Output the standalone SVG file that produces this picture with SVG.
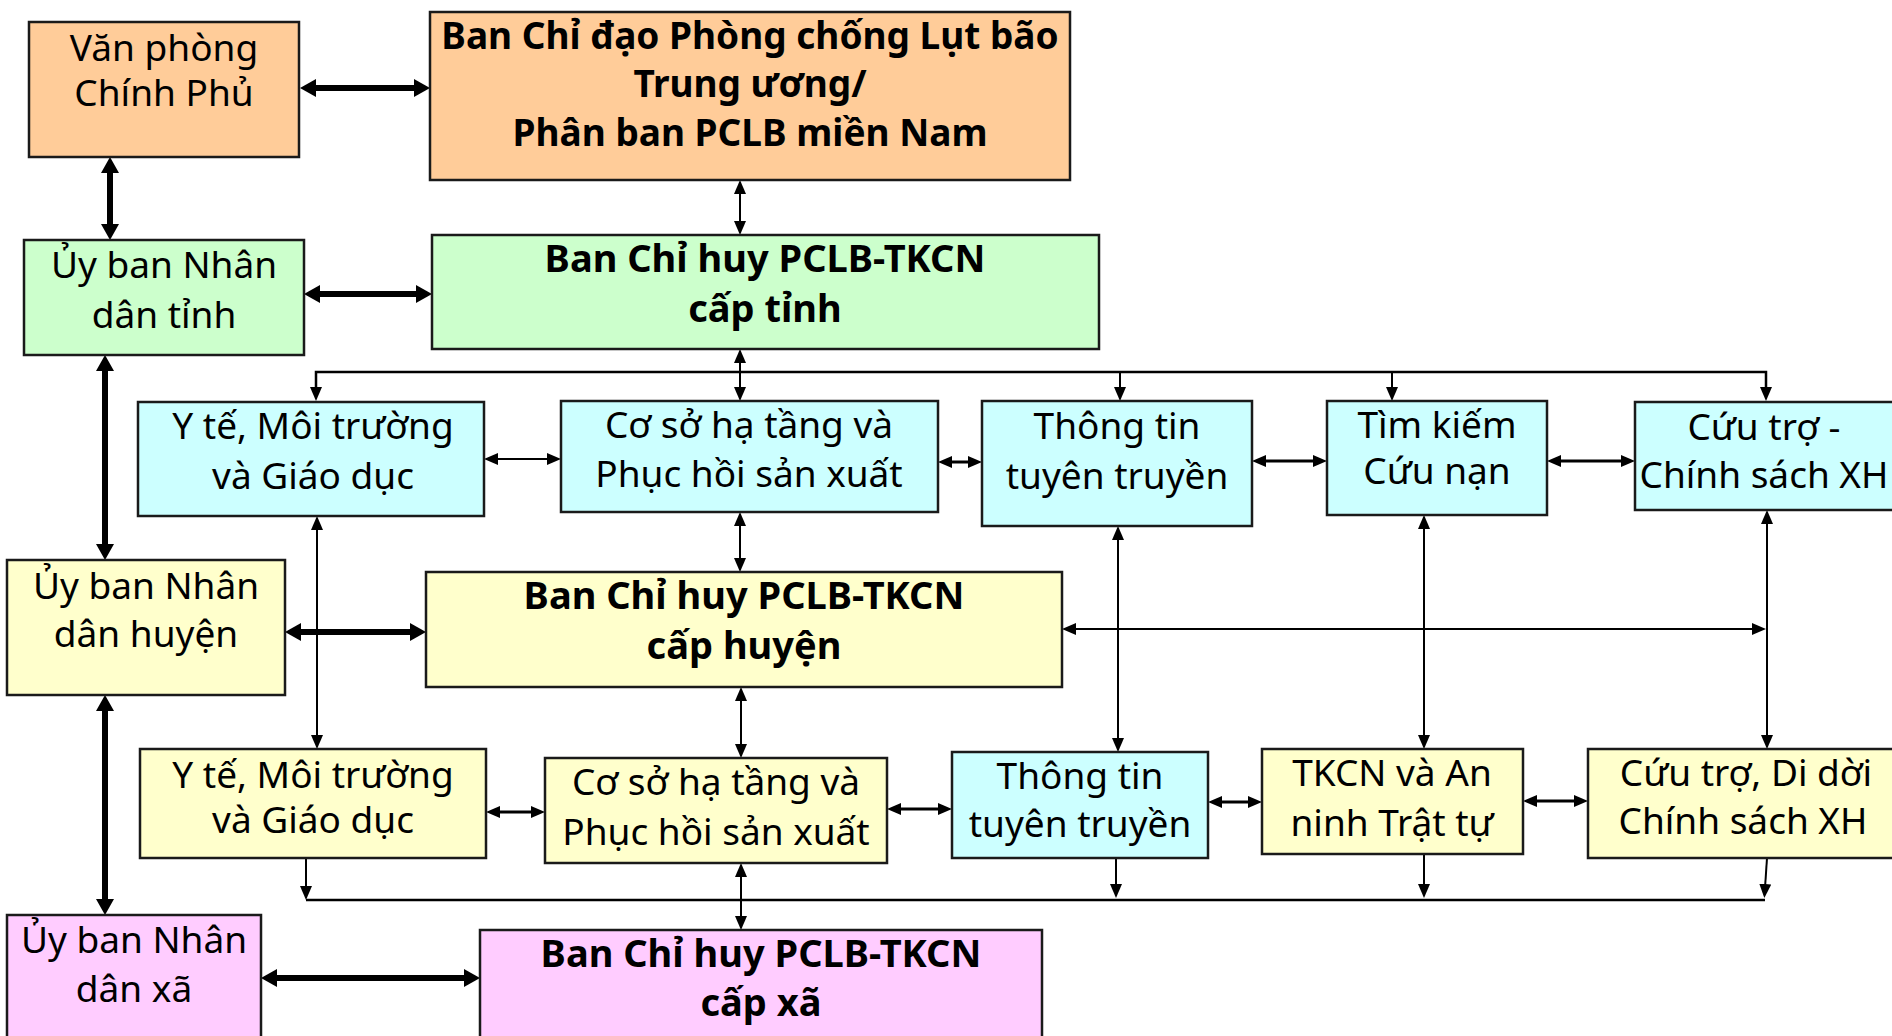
<svg xmlns="http://www.w3.org/2000/svg" width="1892" height="1036" viewBox="0 0 1892 1036">
<style>
  .box { stroke: #1a1a1a; stroke-width: 2.5; }
  .or { fill: #FFCC99; }
  .gr { fill: #CCFFCC; }
  .cy { fill: #CCFFFF; }
  .ye { fill: #FFFFCC; }
  .pk { fill: #FFCCFF; }
  text { font-family: "Noto Sans", "DejaVu Sans", sans-serif; fill: #000; text-anchor: middle; }
  .r { font-size: 37px; }
  .b { font-size: 38px; font-weight: bold; }
  .bt { font-size: 37px; font-weight: bold; }
  .thick { stroke: #000; stroke-width: 6; fill: none; marker-start: url(#A); marker-end: url(#A); }
  .thin { stroke: #000; stroke-width: 2; fill: none; marker-start: url(#a); marker-end: url(#a); }
  .med { stroke: #000; stroke-width: 3; fill: none; marker-start: url(#a); marker-end: url(#a); }
  .one { stroke: #000; stroke-width: 2; fill: none; marker-end: url(#a); }
  .bus { stroke: #000; stroke-width: 2.5; fill: none; }
</style>
<defs>
  <marker id="a" markerUnits="userSpaceOnUse" viewBox="0 0 14 12" markerWidth="14" markerHeight="12" refX="4" refY="6" orient="auto-start-reverse">
    <path d="M0,0 L14,6 L0,12 z" fill="#000"/>
  </marker>
  <marker id="A" markerUnits="userSpaceOnUse" viewBox="0 0 16 18" markerWidth="16" markerHeight="18" refX="4" refY="9" orient="auto-start-reverse">
    <path d="M0,0 L16,9 L0,18 z" fill="#000"/>
  </marker>
</defs>

<g id="connectors">
  <line class="thick" x1="312" y1="88" x2="418" y2="88"/>
  <line class="thick" x1="110" y1="169" x2="110" y2="228"/>
  <line class="thick" x1="316" y1="294" x2="420" y2="294"/>
  <line class="thick" x1="105" y1="367" x2="105" y2="548"/>
  <line class="thick" x1="297" y1="632" x2="414" y2="632"/>
  <line class="thick" x1="105" y1="707" x2="105" y2="903"/>
  <line class="thick" x1="273" y1="978" x2="468" y2="978"/>

  <line class="thin" x1="740" y1="190" x2="740" y2="225"/>
  <line class="thin" x1="740" y1="359" x2="740" y2="391"/>
  <line class="thin" x1="494" y1="459" x2="551" y2="459"/>
  <line class="med" x1="948" y1="462" x2="972" y2="462"/>
  <line class="med" x1="1262" y1="461" x2="1317" y2="461"/>
  <line class="med" x1="1557" y1="461" x2="1625" y2="461"/>
  <path class="bus" d="M316,391 V372 H1766 V391" marker-start="url(#a)" marker-end="url(#a)"/>
  <line class="one" x1="1120" y1="372" x2="1120" y2="391"/>
  <line class="one" x1="1392" y1="372" x2="1392" y2="391"/>

  <line class="thin" x1="317" y1="526" x2="317" y2="739"/>
  <line class="thin" x1="740" y1="522" x2="740" y2="562"/>
  <line class="thin" x1="1118" y1="536" x2="1118" y2="742"/>
  <line class="thin" x1="1424" y1="525" x2="1424" y2="739"/>
  <line class="thin" x1="1767" y1="520" x2="1767" y2="739"/>
  <line class="thin" x1="1072" y1="629" x2="1756" y2="629"/>
  <line class="thin" x1="741" y1="697" x2="741" y2="748"/>

  <line class="med" x1="496" y1="812" x2="535" y2="812"/>
  <line class="med" x1="897" y1="809" x2="942" y2="809"/>
  <line class="med" x1="1218" y1="802" x2="1252" y2="802"/>
  <line class="med" x1="1533" y1="801" x2="1578" y2="801"/>

  <line class="one" x1="306" y1="858" x2="306" y2="890"/>
  <line class="bus" x1="306" y1="900" x2="1765" y2="900"/>
  <line class="one" x1="1116" y1="858" x2="1116" y2="888"/>
  <line class="one" x1="1424" y1="854" x2="1424" y2="888"/>
  <line class="one" x1="1767" y1="858" x2="1765" y2="888"/>
  <line class="thin" x1="741" y1="873" x2="741" y2="920"/>
</g>

<g id="vanphong">
  <rect class="box or" x="29" y="22" width="270" height="135"/>
  <text class="r" x="164" y="61">Văn phòng</text>
  <text class="r" x="164" y="106">Chính Phủ</text>
</g>
<g id="bcd-tw">
  <rect class="box or" x="430" y="12" width="640" height="168"/>
  <text class="bt" x="750" y="49">Ban Chỉ đạo Phòng chống Lụt bão</text>
  <text class="bt" x="750" y="97">Trung ương/</text>
  <text class="bt" x="750" y="146">Phân ban PCLB miền Nam</text>
</g>
<g id="ubnd-tinh">
  <rect class="box gr" x="24" y="240" width="280" height="115"/>
  <text class="r" x="164" y="278">Ủy ban Nhân</text>
  <text class="r" x="164" y="328">dân tỉnh</text>
</g>
<g id="bch-tinh">
  <rect class="box gr" x="432" y="235" width="667" height="114"/>
  <text class="b" x="765" y="272">Ban Chỉ huy PCLB-TKCN</text>
  <text class="b" x="765" y="322">cấp tỉnh</text>
</g>

<g id="yte-tinh">
  <rect class="box cy" x="138" y="402" width="346" height="114"/>
  <text class="r" x="313" y="439">Y tế, Môi trường</text>
  <text class="r" x="313" y="489">và Giáo dục</text>
</g>
<g id="coso-tinh">
  <rect class="box cy" x="561" y="401" width="377" height="111"/>
  <text class="r" x="749" y="438">Cơ sở hạ tầng và</text>
  <text class="r" x="749" y="487">Phục hồi sản xuất</text>
</g>
<g id="thongtin-tinh">
  <rect class="box cy" x="982" y="401" width="270" height="125"/>
  <text class="r" x="1117" y="439">Thông tin</text>
  <text class="r" x="1117" y="489">tuyên truyền</text>
</g>
<g id="timkiem-tinh">
  <rect class="box cy" x="1327" y="401" width="220" height="114"/>
  <text class="r" x="1437" y="438">Tìm kiếm</text>
  <text class="r" x="1437" y="484">Cứu nạn</text>
</g>
<g id="cuutro-tinh">
  <rect class="box cy" x="1635" y="402" width="262" height="108"/>
  <text class="r" x="1764" y="440">Cứu trợ -</text>
  <text class="r" x="1764" y="488">Chính sách XH</text>
</g>

<g id="ubnd-huyen">
  <rect class="box ye" x="7" y="560" width="278" height="135"/>
  <text class="r" x="146" y="599">Ủy ban Nhân</text>
  <text class="r" x="146" y="647">dân huyện</text>
</g>
<g id="bch-huyen">
  <rect class="box ye" x="426" y="572" width="636" height="115"/>
  <text class="b" x="744" y="609">Ban Chỉ huy PCLB-TKCN</text>
  <text class="b" x="744" y="659">cấp huyện</text>
</g>

<g id="yte-huyen">
  <rect class="box ye" x="140" y="749" width="346" height="109"/>
  <text class="r" x="313" y="788">Y tế, Môi trường</text>
  <text class="r" x="313" y="833">và Giáo dục</text>
</g>
<g id="coso-huyen">
  <rect class="box ye" x="545" y="758" width="342" height="105"/>
  <text class="r" x="716" y="795">Cơ sở hạ tầng và</text>
  <text class="r" x="716" y="845">Phục hồi sản xuất</text>
</g>
<g id="thongtin-huyen">
  <rect class="box cy" x="952" y="752" width="256" height="106"/>
  <text class="r" x="1080" y="789">Thông tin</text>
  <text class="r" x="1080" y="837">tuyên truyền</text>
</g>
<g id="tkcn-huyen">
  <rect class="box ye" x="1262" y="749" width="261" height="105"/>
  <text class="r" x="1392" y="786">TKCN và An</text>
  <text class="r" x="1392" y="836">ninh Trật tự</text>
</g>
<g id="cuutro-huyen">
  <rect class="box ye" x="1588" y="749" width="314" height="109"/>
  <text class="r" x="1746" y="786">Cứu trợ, Di dời</text>
  <text class="r" x="1743" y="834">Chính sách XH</text>
</g>

<g id="ubnd-xa">
  <rect class="box pk" x="7" y="915" width="254" height="140"/>
  <text class="r" x="134" y="953">Ủy ban Nhân</text>
  <text class="r" x="134" y="1002">dân xã</text>
</g>
<g id="bch-xa">
  <rect class="box pk" x="480" y="930" width="562" height="125"/>
  <text class="b" x="761" y="967">Ban Chỉ huy PCLB-TKCN</text>
  <text class="b" x="761" y="1016">cấp xã</text>
</g>
</svg>
